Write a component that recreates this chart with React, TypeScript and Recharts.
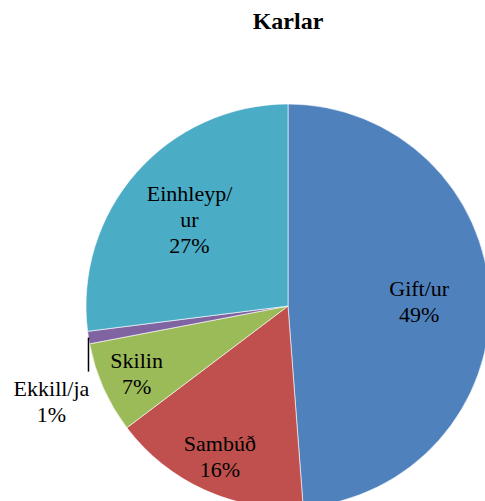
import React from "react";
import { PieChart, Pie, Cell } from "recharts";

const categories = ["Gift/ur", "Sambúð", "Skilin", "Ekkill/ja", "Einhleyp/ur"];
const values = [48.8, 15.9, 7.3, 1.0, 27.0];
const colors = ["#4F81BD", "#C0504D", "#9BBB59", "#8064A2", "#4BACC6"];
const title = "Karlar";

const total = values.reduce((a, b) => a + b, 0);
const data = categories.map((name, i) => ({
  name,
  value: values[i],
  pct: Math.round((values[i] / total) * 100),
}));

const FONT = '"Liberation Serif", Tinos, "Times New Roman", serif';
const RAD = Math.PI / 180;

function wrapName(name: string): string[] {
  if (name.length > 9 && name.includes("/")) {
    const idx = name.indexOf("/");
    return [name.slice(0, idx + 1), name.slice(idx + 1)];
  }
  return [name];
}

const renderLabel = (props: any) => {
  const { cx, cy, midAngle, outerRadius, payload, percent } = props;
  const name = payload.name;
  const pctText = `${payload.pct}%`;
  const lineH = 26;
  const lines = [...wrapName(name), pctText];
  if (percent < 0.02) {
    const ex = cx + outerRadius * Math.cos(-midAngle * RAD);
    const ey = cy + outerRadius * Math.sin(-midAngle * RAD);
    const tx = ex - 37;
    const ty0 = ey + 51;
    return (
      <g>
        <line x1={ex} y1={ey} x2={ex} y2={ey + 34} stroke="#000" strokeWidth={1.5} />
        {lines.map((l, i) => (
          <text key={i} x={tx} y={ty0 + i * lineH} textAnchor="middle" dominantBaseline="central" fill="#000" fontFamily={FONT} fontSize={22}>
            {l}
          </text>
        ))}
      </g>
    );
  }
  const factor = percent > 0.2 ? 0.65 : 0.82;
  const r = outerRadius * factor;
  const x = cx + r * Math.cos(-midAngle * RAD);
  const y = cy + r * Math.sin(-midAngle * RAD);
  const start = y - ((lines.length - 1) * lineH) / 2;
  return (
    <g>
      {lines.map((l, i) => (
        <text key={i} x={x} y={start + i * lineH} textAnchor="middle" dominantBaseline="central" fill="#000" fontFamily={FONT} fontSize={22}>
          {l}
        </text>
      ))}
    </g>
  );
};

export default function App() {
  return (
    <div style={{ position: "absolute", left: 0, top: 0, width: 485, height: 501, background: "#fff", overflow: "hidden" }}>
      <PieChart width={485} height={501} margin={{ top: 0, right: 0, bottom: 0, left: 0 }}>
        <text x={288} y={21} textAnchor="middle" dominantBaseline="central" fill="#000" fontFamily={FONT} fontWeight="bold" fontSize={24}>
          {title}
        </text>
        <Pie
          data={data}
          dataKey="value"
          nameKey="name"
          cx={288}
          cy={306}
          outerRadius={202}
          startAngle={90}
          endAngle={-270}
          stroke="#ffffff"
          strokeWidth={0.6}
          label={renderLabel}
          labelLine={false}
          isAnimationActive={false}
        >
          {data.map((d, i) => (
            <Cell key={d.name} fill={colors[i]} />
          ))}
        </Pie>
      </PieChart>
    </div>
  );
}
